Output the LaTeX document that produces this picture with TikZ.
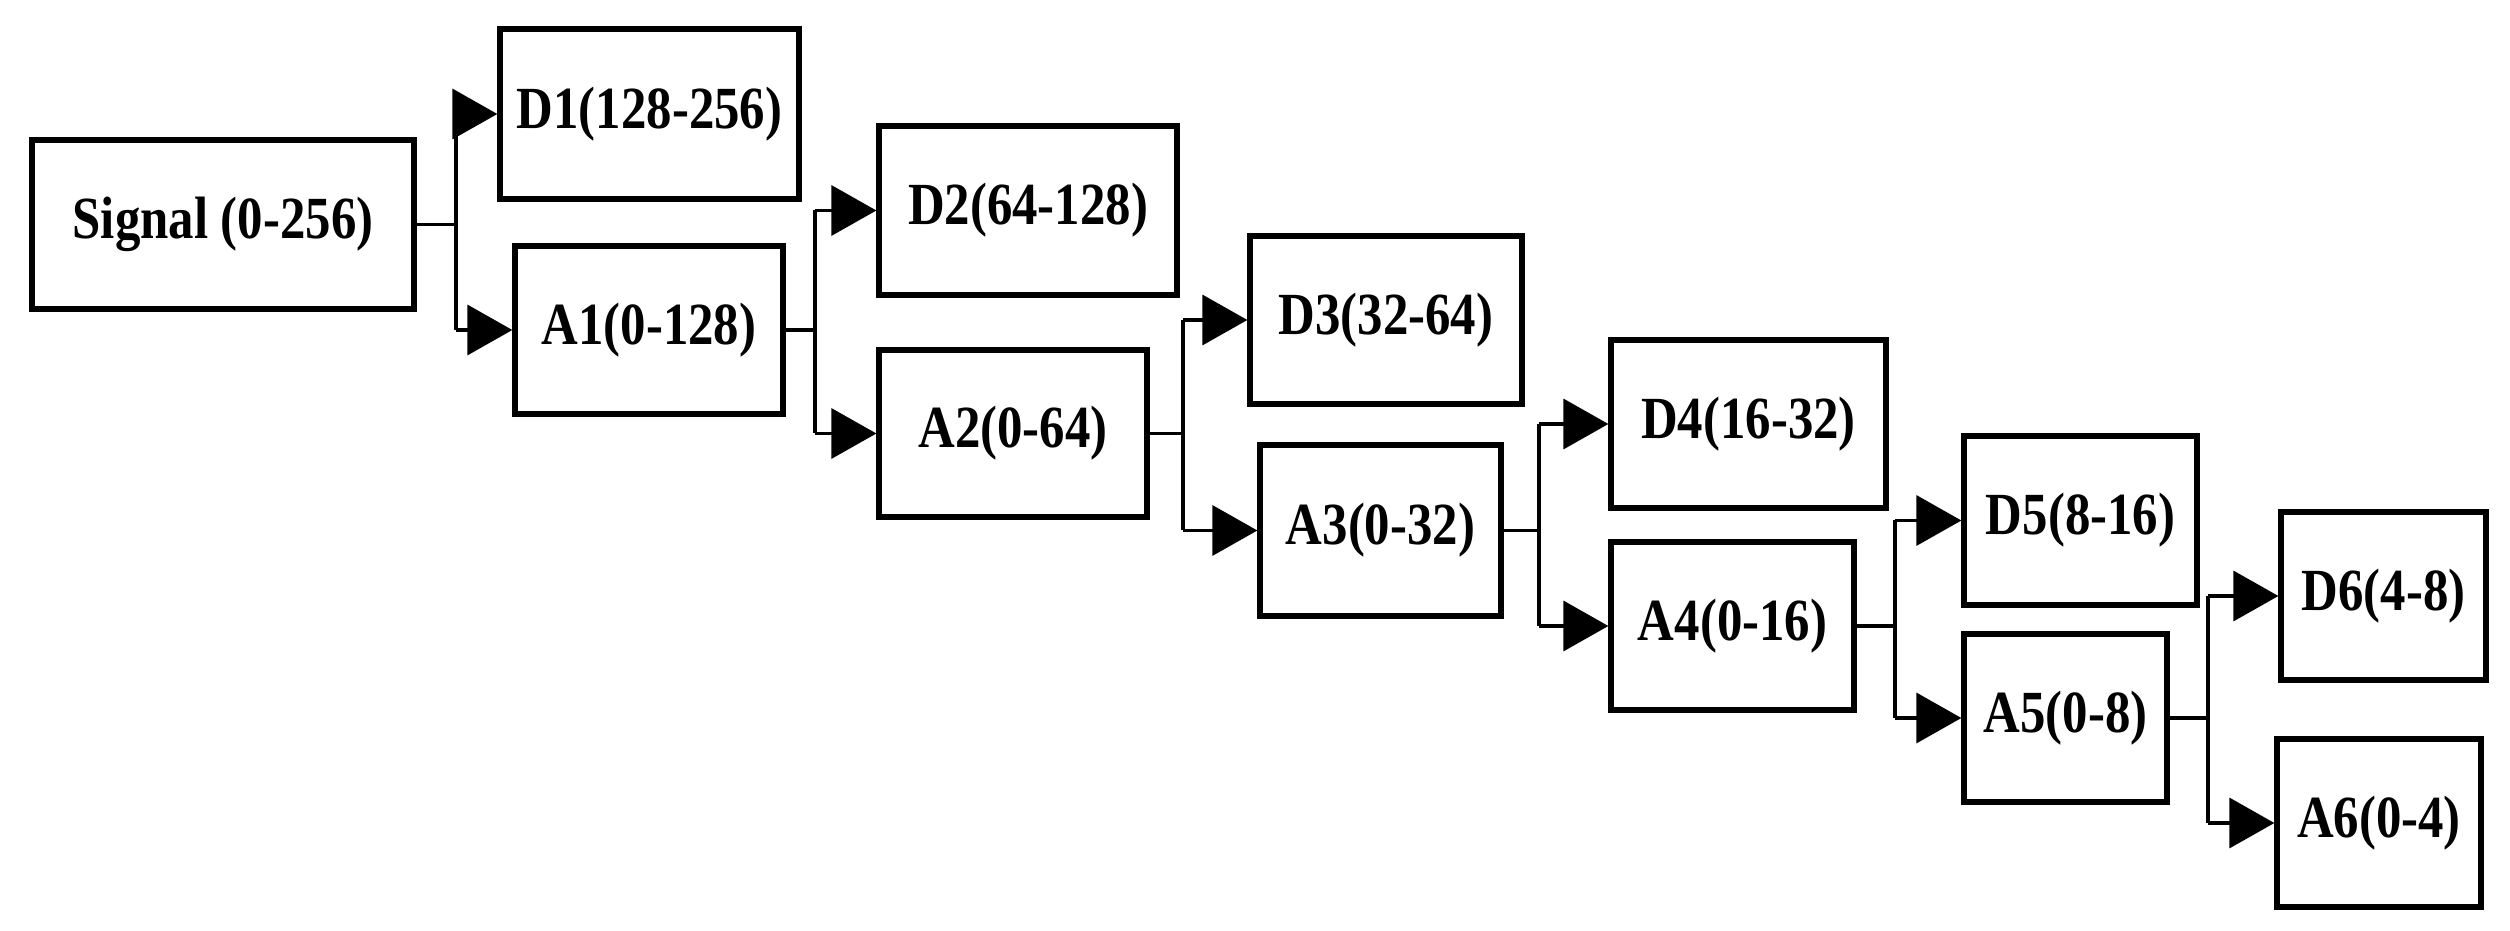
\documentclass[tikz,border=0pt]{standalone}
\usepackage{fontspec}
\setmainfont{Liberation Serif}
\usetikzlibrary{arrows.meta}
\begin{document}
\begin{tikzpicture}[x=0.01cm,y=-0.01cm,
  box/.style={draw,line width=1.5pt,inner sep=0pt,font=\bfseries\fontsize{17pt}{20pt}\selectfont},
  conn/.style={line width=1pt},
  arr/.style={line width=1pt,-{Triangle[length=0.45cm,width=0.5cm]}}]
\useasboundingbox (0,0) rectangle (2510,931);
\newcommand{\bx}[6]{\node[box,minimum width={(#4-#2)*0.01cm},minimum height={(#5-#3)*0.01cm}] (#1) at ({(#2+#4)/2},{(#3+#5)/2}) {\scalebox{0.85}[1]{#6}};}
\bx{S}{32}{140}{414}{309}{Signal (0-256)}
\bx{D1}{500}{29}{799}{199}{D1(128-256)}
\bx{A1}{515}{246}{783}{414}{A1(0-128)}
\bx{D2}{879}{126}{1177}{295}{D2(64-128)}
\bx{A2}{879}{350}{1147}{517}{A2(0-64)}
\bx{D3}{1250}{236}{1522}{404}{D3(32-64)}
\bx{A3}{1260}{445}{1501}{616}{A3(0-32)}
\bx{D4}{1611}{340}{1886}{508}{D4(16-32)}
\bx{A4}{1611}{542}{1854}{710}{A4(0-16)}
\bx{D5}{1964}{436}{2197}{605}{D5(8-16)}
\bx{A5}{1964}{634}{2167}{802}{A5(0-8)}
\bx{D6}{2281}{512}{2486}{680}{D6(4-8)}
\bx{A6}{2277}{739}{2481}{907}{A6(0-4)}
\foreach \p/\d/\a/\fx in {S/D1/A1/456, A1/D2/A2/815, A2/D3/A3/1183, A3/D4/A4/1539, A4/D5/A5/1895, A5/D6/A6/2208}{
  \coordinate (f\p) at (\fx,0);
  \draw[conn] (\p.east) -- (f\p |- \p.east);
  \draw[conn] (f\p |- \d.west) -- (f\p |- \a.west);
  \draw[arr] (f\p |- \d.west) -- (\d.west);
  \draw[arr] (f\p |- \a.west) -- (\a.west);
}
\end{tikzpicture}
\end{document}
